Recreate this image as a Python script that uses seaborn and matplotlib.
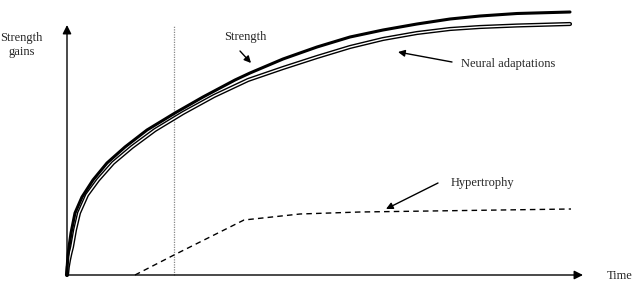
import numpy as np
import pandas as pd
import matplotlib
matplotlib.use("Agg")
import matplotlib.pyplot as plt
import seaborn as sns

# Data (arbitrary units)
strength_t = [0, 0.3, 1, 2, 4, 8, 15, 26, 40, 58, 80, 108, 136, 168, 183, 216, 250, 283,
              316, 350, 383, 413, 450, 503]
strength_y = [0, 10, 20, 28, 42, 62, 78, 95, 112, 128, 145, 162, 178, 195, 202, 216, 228, 238,
              245, 251, 256, 259, 261.5, 263]

neural_t = [0, 0.8, 2, 3.5, 5, 8, 12, 20, 31, 46, 65, 88, 116, 147, 181, 216, 250, 283,
            316, 350, 383, 413, 450, 503]
neural_y = [0, 8, 15, 22, 28, 45, 62, 80, 95, 112, 128, 145, 162, 179, 195, 207, 218, 228,
            236, 242, 246, 248, 249.5, 251]

hyper_t = [68, 107, 177, 233, 293, 504]
hyper_y = [0, 20, 55, 61, 63, 66]

marker_t = 107  # dotted vertical line

sns.set_style("white")
plt.rcParams['font.family'] = ['Liberation Serif', 'DejaVu Serif']

fig = plt.figure(figsize=(6.42, 2.86), dpi=100)
ax = fig.add_axes([0, 0, 1, 1])
ax.set_xlim(-67, 575)
ax.set_ylim(-11, 275)
for s in ax.spines.values():
    s.set_visible(False)
ax.set_xticks([])
ax.set_yticks([])

df_s = pd.DataFrame({"t": strength_t, "y": strength_y})
df_n = pd.DataFrame({"t": neural_t, "y": neural_y})
df_h = pd.DataFrame({"t": hyper_t, "y": hyper_y})

# dotted vertical line
ax.plot([marker_t, marker_t], [0, 250], color="#888888", lw=0.9, ls=(0, (1, 1)), zorder=1)

# neural adaptations: double line
sns.lineplot(data=df_n, x="t", y="y", ax=ax, color="black", lw=3.0, sort=False, zorder=3)
sns.lineplot(data=df_n, x="t", y="y", ax=ax, color="white", lw=1.0, sort=False, zorder=4)
# strength: thick line
sns.lineplot(data=df_s, x="t", y="y", ax=ax, color="black", lw=2.2, sort=False, zorder=5)
# hypertrophy: dashed
sns.lineplot(data=df_h, x="t", y="y", ax=ax, color="black", lw=1.0, sort=False,
             linestyle=(0, (4, 3)), zorder=3)

ax.set_xlabel("")
ax.set_ylabel("")

# axes with arrows
ap = dict(arrowstyle="-|>", lw=1.0, color="black", mutation_scale=13, shrinkA=0, shrinkB=0)
ax.annotate("", xy=(0, 250), xytext=(0, 0), arrowprops=ap, zorder=6)
ax.annotate("", xy=(516, 0), xytext=(0, 0), arrowprops=ap, zorder=6)

fs = 9
ax.text(-45.5, 230, "Strength\ngains", ha="center", va="center", fontsize=fs, linespacing=1.25)
ax.text(540, -1, "Time", ha="left", va="center", fontsize=fs)

ap2 = dict(arrowstyle="-|>", lw=1.0, color="black", mutation_scale=10, shrinkA=0, shrinkB=0)
ax.text(178, 238, "Strength", ha="center", va="center", fontsize=fs)
ax.annotate("", xy=(184, 212), xytext=(173, 224), arrowprops=ap2)

ax.text(394, 211, "Neural adaptations", ha="left", va="center", fontsize=fs)
ax.annotate("", xy=(331, 223), xytext=(385, 213), arrowprops=ap2)

ax.text(384, 92, "Hypertrophy", ha="left", va="center", fontsize=fs)
ax.annotate("", xy=(319, 66), xytext=(371, 92), arrowprops=ap2)

fig.savefig("out.png", dpi=100)
